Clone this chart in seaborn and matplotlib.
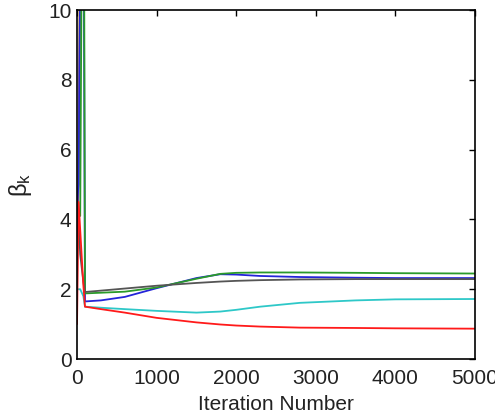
import matplotlib
matplotlib.use("Agg")
import matplotlib.pyplot as plt
import pandas as pd
import seaborn as sns

## Values (beta_k per iteration)
iters = [0, 20, 40, 80, 100, 300, 600, 1000, 1500, 1800, 2000, 2300, 2800, 3500, 4000, 5000]
beta_yellow = [3.0, 6.0, 15, 32, 33, 33, 34, 35, 36, 37, 37, 38, 38, 39, 39, 40]
beta_purple = [3.5, 5.0, 12, 28, 29, 29, 30, 31, 32, 32, 33, 33, 34, 34, 35, 35]
beta_blue = [4.5, 5.0, 11, 15, 1.65, 1.68, 1.78, 2.03, 2.32, 2.43, 2.42, 2.38, 2.35, 2.33, 2.32, 2.32]
beta_green = [4.1, 4.1, 4.1, 20, 1.88, 1.90, 1.93, 2.05, 2.30, 2.44, 2.47, 2.48, 2.48, 2.47, 2.46, 2.45]
beta_gray = [4.5, 4.0, 3.0, 2.2, 1.92, 1.96, 2.02, 2.10, 2.18, 2.22, 2.24, 2.26, 2.28, 2.29, 2.29, 2.29]
beta_cyan = [2.0, 2.0, 2.0, 1.8, 1.50, 1.47, 1.43, 1.38, 1.33, 1.36, 1.41, 1.50, 1.61, 1.68, 1.71, 1.72]
beta_red = [1.0, 4.5, 3.7, 2.1, 1.50, 1.43, 1.33, 1.18, 1.05, 0.99, 0.96, 0.93, 0.90, 0.89, 0.88, 0.87]

series = {"yellow": beta_yellow, "purple": beta_purple, "blue": beta_blue,
          "green": beta_green, "gray": beta_gray, "cyan": beta_cyan, "red": beta_red}
colors = {"yellow": "#e6c35a", "purple": "#7b3f91", "blue": "#2424d8",
          "green": "#2a9a2a", "gray": "#555555", "cyan": "#2ec8c8", "red": "#ff1a1a"}

df = pd.concat([pd.DataFrame({"iter": iters, "beta": v, "k": name}) for name, v in series.items()])

## Plotting
sns.set_style("white")
plt.rcParams["font.family"] = ["Liberation Sans", "DejaVu Sans"]
plt.rcParams["mathtext.default"] = "regular"

fig = plt.figure(figsize=(4.95, 4.17), dpi=100)
ax = fig.add_axes([0.1556, 0.139, 0.804, 0.837])
sns.lineplot(data=df, x="iter", y="beta", hue="k", palette=colors, ax=ax,
             legend=False, linewidth=1.3, estimator=None)

ax.set_xlim(0, 5000)
ax.set_ylim(0, 10)
ax.set_xticks([0, 1000, 2000, 3000, 4000, 5000])
ax.set_yticks([0, 2, 4, 6, 8, 10])
ax.tick_params(direction="in", length=4, width=1, labelsize=15, top=True, right=True,
               color="black", labelcolor="#222222")
ax.tick_params(axis="x", pad=7)
ax.tick_params(axis="y", pad=4)
for s in ax.spines.values():
    s.set_color("black")
    s.set_linewidth(1.2)
ax.set_xlabel("Iteration Number", fontsize=15, labelpad=5, color="#222222")
ax.set_ylabel(r"$\beta_k$", fontsize=17, labelpad=10, color="#222222")

plt.savefig("out.png", dpi=100)
plt.close()
